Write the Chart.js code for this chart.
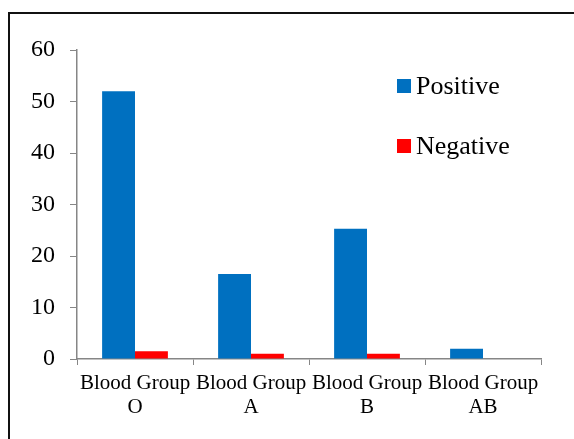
<!DOCTYPE html>
<html>
<head>
<meta charset="utf-8">
<script src="https://cdn.jsdelivr.net/npm/chart.js@4"></script>
<style>
  html, body { margin: 0; padding: 0; background: #fff; }
  #wrap { position: relative; width: 574px; height: 439px; overflow: hidden; }
  #frame { position: absolute; left: 8px; top: 12px; width: 700px; height: 600px; border: 2px solid #111; box-sizing: border-box; }
  #c { position: absolute; left: 0; top: 0; }
  #legend { position: absolute; left: 397px; top: 70px; font-family: "Liberation Serif", "Times New Roman", serif; font-size: 26px; color: #000; }
  .item { display: flex; align-items: center; height: 32px; margin-bottom: 28px; }
  .sw { width: 14px; height: 14px; margin-right: 5px; }
</style>
</head>
<body>
<div id="wrap">
  <div id="frame"></div>
  <canvas id="c" width="574" height="439"></canvas>
  <div id="legend"></div>
</div>
<script>
const categories = [["Blood Group", "O"], ["Blood Group", "A"], ["Blood Group", "B"], ["Blood Group", "AB"]];
const positiveValues = [52, 16.5, 25.3, 2];
const negativeValues = [1.5, 1, 1, 0];
const seriesNames = ["Positive", "Negative"];
const seriesColors = ["#0070C0", "#FF0000"];
const yTicks = [0, 10, 20, 30, 40, 50, 60];

const serif = "'Liberation Serif', 'Times New Roman', serif";
const axisGray = "#868686";

const chart = new Chart(document.getElementById('c'), {
  type: 'bar',
  data: {
    labels: categories,
    datasets: [
      { label: seriesNames[0], data: positiveValues, backgroundColor: seriesColors[0], borderWidth: 0 },
      { label: seriesNames[1], data: negativeValues, backgroundColor: seriesColors[1], borderWidth: 0 }
    ]
  },
  options: {
    responsive: false,
    animation: false,
    devicePixelRatio: 1,
    layout: { padding: { left: 0, top: 50, right: 33, bottom: 0 } },
    datasets: { bar: { categoryPercentage: 0.567, barPercentage: 1.0 } },
    plugins: { legend: { display: false }, tooltip: { enabled: false } },
    scales: {
      x: {
        grid: { display: true, offset: true, drawOnChartArea: false, drawTicks: true, tickLength: 6, color: axisGray, lineWidth: 1 },
        border: { display: true, color: axisGray, width: 1.5 },
        ticks: { color: '#000', font: { family: serif, size: 21, lineHeight: 1.15 }, padding: 6, maxRotation: 0, autoSkip: false },
        afterFit: (s) => { s.height = 80; }
      },
      y: {
        min: yTicks[0], max: yTicks[yTicks.length - 1],
        afterBuildTicks: (s) => { s.ticks = yTicks.map(v => ({ value: v })); },
        grid: { display: true, drawOnChartArea: false, drawTicks: true, tickLength: 7, color: axisGray, lineWidth: 1 },
        border: { display: true, color: axisGray, width: 1.5 },
        ticks: { color: '#000', font: { family: serif, size: 24 }, padding: 15 },
        afterFit: (s) => { s.width = 77; }
      }
    }
  }
});

const legend = document.getElementById('legend');
seriesNames.forEach((name, i) => {
  const row = document.createElement('div');
  row.className = 'item';
  const sw = document.createElement('span');
  sw.className = 'sw';
  sw.style.background = seriesColors[i];
  const tx = document.createElement('span');
  tx.textContent = name;
  row.appendChild(sw);
  row.appendChild(tx);
  legend.appendChild(row);
});
</script>
</body>
</html>
